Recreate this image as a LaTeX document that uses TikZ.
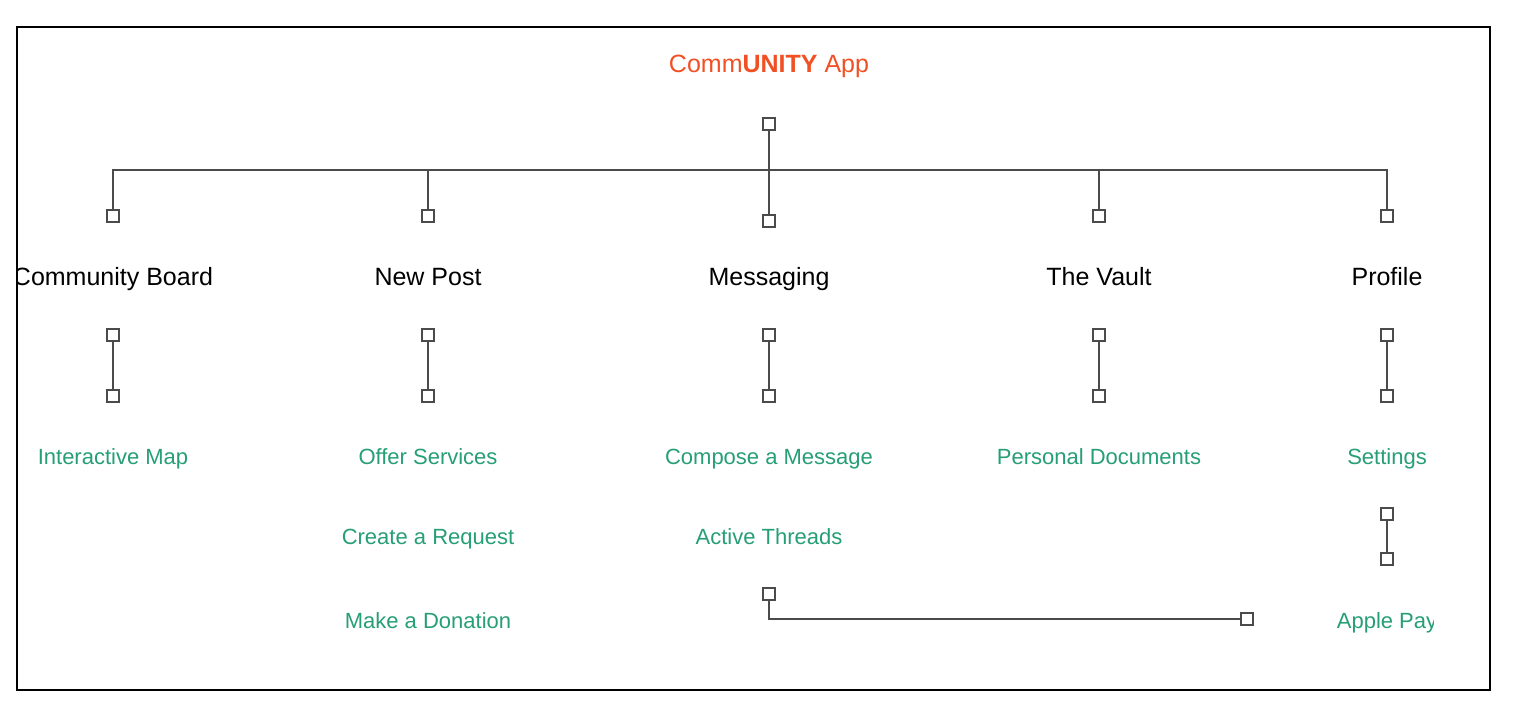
\documentclass[tikz,border=0pt]{standalone}
\usepackage{fontspec}
\setmainfont{Liberation Sans}
\usepackage{tikz}
\usetikzlibrary{positioning,calc}
\usepackage{xcolor}
\definecolor{apporange}{RGB}{240,80,35}
\definecolor{linkgreen}{RGB}{38,158,118}
\definecolor{wire}{RGB}{75,75,75}
\tikzstyle{handle} = [rectangle, draw=wire, line width=1.6pt, fill=white, minimum size=12pt, inner sep=0pt]
\tikzstyle{heading} = [anchor=base, font=\fontsize{25}{28}\selectfont, text=black]
\tikzstyle{item} = [anchor=base, font=\fontsize{22}{25}\selectfont, text=linkgreen]
\tikzstyle{wireline} = [draw=wire, line width=2.2pt]

\begin{document}
\begin{tikzpicture}[x=1pt, y=-1pt]
    \useasboundingbox (0,0) rectangle (1528,716);
    \begin{scope}
    \clip (17,27) rectangle (1433,690);
    % Title
    \node (title) [anchor=base, font=\fontsize{25}{28}\selectfont, text=apporange] at (769,72) {Comm\textbf{UNITY} App};

    % Top handles and bus
    \node (root) [handle] at (769,124) {};
    \coordinate (bus) at (769,170);
    \node (cbTop) [handle] at (113,216) {};
    \node (npTop) [handle] at (428,216) {};
    \node (msTop) [handle] at (769,221) {};
    \node (vaTop) [handle] at (1099,216) {};
    \node (prTop) [handle] at (1387,216) {};

    % Headings
    \node (cb) [heading] at (113,285) {Community Board};
    \node (np) [heading] at (428,285) {New Post};
    \node (ms) [heading] at (769,285) {Messaging};
    \node (va) [heading] at (1099,285) {The Vault};
    \node (pr) [heading] at (1387,285) {Profile};

    % Handle pairs under headings
    \node (cbA) [handle] at (113,335) {};
    \node (cbB) [handle] at (113,396) {};
    \node (npA) [handle] at (428,335) {};
    \node (npB) [handle] at (428,396) {};
    \node (msA) [handle] at (769,335) {};
    \node (msB) [handle] at (769,396) {};
    \node (vaA) [handle] at (1099,335) {};
    \node (vaB) [handle] at (1099,396) {};
    \node (prA) [handle] at (1387,335) {};
    \node (prB) [handle] at (1387,396) {};

    % Items
    \node (map) [item] at (113,464) {Interactive Map};
    \node (offer) [item] at (428,464) {Offer Services};
    \node (compose) [item] at (769,464) {Compose a Message};
    \node (docs) [item] at (1099,464) {Personal Documents};
    \node (settings) [item] at (1387,464) {Settings};
    \node (request) [item] at (428,544) {Create a Request};
    \node (threads) [item] at (769,544) {Active Threads};
    \node (donate) [item] at (428,628) {Make a Donation};
    \node (pay) [item] at (1387,628) {Apple Pay};

    % Extra handles
    \node (prC) [handle] at (1387,514) {};
    \node (prD) [handle] at (1387,559) {};
    \node (thA) [handle] at (769,594) {};
    \node (thB) [handle] at (1247,619) {};

    % Wires
    \draw [wireline] (root) -- (msTop);
    \draw [wireline] (cbTop) |- (bus) -| (prTop);
    \draw [wireline] (npTop) -- (npTop |- bus);
    \draw [wireline] (vaTop) -- (vaTop |- bus);
    \draw [wireline] (cbA) -- (cbB);
    \draw [wireline] (npA) -- (npB);
    \draw [wireline] (msA) -- (msB);
    \draw [wireline] (vaA) -- (vaB);
    \draw [wireline] (prA) -- (prB);
    \draw [wireline] (prC) -- (prD);
    \draw [wireline] (thA) |- (thB);
    \end{scope}

    % Frame
    \draw [line width=1.5pt, black] (17,27) rectangle (1490,690);
\end{tikzpicture}
\end{document}
